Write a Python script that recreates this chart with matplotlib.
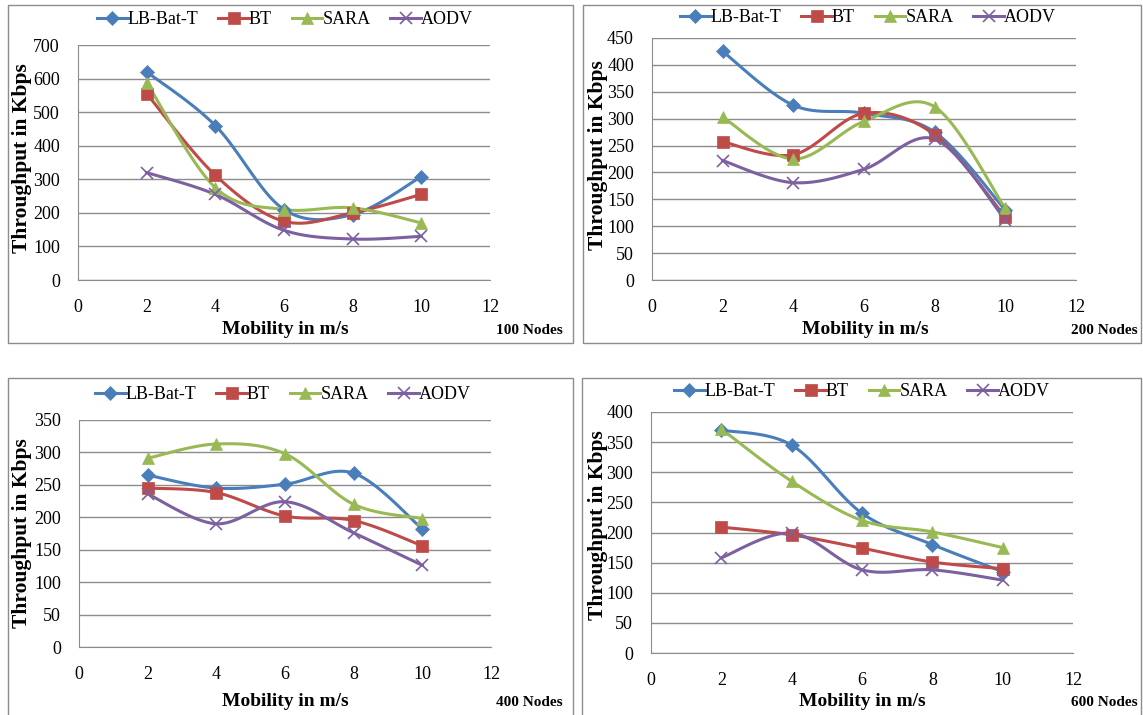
import numpy as np
import matplotlib
matplotlib.use("Agg")
import matplotlib.pyplot as plt
from matplotlib.patches import Rectangle

W, H = 1143, 715

mobility = [2, 4, 6, 8, 10]
series = ["LB-Bat-T", "BT", "SARA", "AODV"]

# 100 nodes
lb_100 = [620, 460, 210, 195, 308]
bt_100 = [555, 312, 175, 200, 255]
sara_100 = [588, 275, 210, 215, 170]
aodv_100 = [320, 255, 148, 122, 130]

# 200 nodes
lb_200 = [425, 325, 310, 275, 130]
bt_200 = [257, 233, 310, 270, 117]
sara_200 = [303, 225, 295, 322, 133]
aodv_200 = [222, 181, 206, 262, 112]

# 400 nodes
lb_400 = [265, 245, 251, 268, 182]
bt_400 = [245, 238, 202, 195, 156]
sara_400 = [291, 313, 298, 220, 198]
aodv_400 = [236, 190, 224, 176, 126]

# 600 nodes
lb_600 = [370, 345, 232, 180, 135]
bt_600 = [209, 196, 174, 151, 140]
sara_600 = [372, 285, 220, 201, 175]
aodv_600 = [158, 199, 138, 138, 121]

colors = ["#4A7EBB", "#BE4B48", "#98B954", "#7D60A0"]
markers = ["D", "s", "^", "x"]
msizes = [7, 9, 9, 9]

plt.rcParams["font.family"] = ["Liberation Serif", "DejaVu Serif"]


def smooth(x, y, n=30):
    # excel-style bezier smoothing through the points
    x = np.asarray(x, float)
    y = np.asarray(y, float)
    px = np.concatenate([[x[0]], x, [x[-1]]])
    py = np.concatenate([[y[0]], y, [y[-1]]])
    xs, ys = [], []
    t = np.linspace(0, 1, n)
    for i in range(1, len(x)):
        p0 = np.array([px[i], py[i]])
        p3 = np.array([px[i + 1], py[i + 1]])
        p1 = p0 + (np.array([px[i + 1], py[i + 1]]) - np.array([px[i - 1], py[i - 1]])) / 6
        p2 = p3 - (np.array([px[i + 2], py[i + 2]]) - np.array([px[i], py[i]])) / 6
        b = ((1 - t) ** 3)[:, None] * p0 + (3 * (1 - t) ** 2 * t)[:, None] * p1 \
            + (3 * (1 - t) * t ** 2)[:, None] * p2 + (t ** 3)[:, None] * p3
        xs.append(b[:, 0])
        ys.append(b[:, 1])
    return np.concatenate(xs), np.concatenate(ys)


def fr(x0, y0, x1, y1):
    # pixel box -> figure fraction
    return [x0 / W, 1 - y1 / H, (x1 - x0) / W, (y1 - y0) / H]


fig = plt.figure(figsize=(W / 100, H / 100), dpi=100)

panels = [
    dict(data=[lb_100, bt_100, sara_100, aodv_100], ymax=700, step=100, nodes="100 Nodes",
         box=(8, 5, 573, 343), ax=(78, 45, 490, 280), leg=(285, 20), xl=(285, 330), yl=(22, 158), nl=(563, 330)),
    dict(data=[lb_200, bt_200, sara_200, aodv_200], ymax=450, step=50, nodes="200 Nodes",
         box=(583, 5, 1141, 343), ax=(652, 38, 1076, 280), leg=(868, 18), xl=(865, 330), yl=(598, 155), nl=(1138, 330)),
    dict(data=[lb_400, bt_400, sara_400, aodv_400], ymax=350, step=50, nodes="400 Nodes",
         box=(8, 378, 573, 718), ax=(79, 420, 491, 647), leg=(283, 395), xl=(285, 702), yl=(22, 533), nl=(563, 702)),
    dict(data=[lb_600, bt_600, sara_600, aodv_600], ymax=400, step=50, nodes="600 Nodes",
         box=(582, 378, 1141, 718), ax=(651, 412, 1073, 653), leg=(862, 392), xl=(862, 702), yl=(598, 525), nl=(1138, 702)),
]

for p in panels:
    bx = p["box"]
    fig.add_artist(Rectangle((bx[0] / W, 1 - bx[3] / H), (bx[2] - bx[0]) / W, (bx[3] - bx[1]) / H,
                             transform=fig.transFigure, fill=False, edgecolor="#8C8C8C", lw=1.0))
    ax = fig.add_axes(fr(*p["ax"]))
    handles = []
    for vals, name, c, m, ms in zip(p["data"], series, colors, markers, msizes):
        sx, sy = smooth(mobility, vals)
        ax.plot(sx, sy, color=c, lw=2.2, zorder=3)
        ax.plot(mobility, vals, linestyle="none", marker=m, color=c, ms=ms,
                markeredgewidth=1.2 if m == "x" else 0.5, zorder=4)
        h, = ax.plot([], [], color=c, lw=2.2, marker=m, ms=ms,
                     markeredgewidth=1.2 if m == "x" else 0.5)
        handles.append(h)
    ax.set_xlim(0, 12)
    ax.set_ylim(0, p["ymax"])
    ax.set_xticks(range(0, 13, 2))
    ax.set_yticks(range(0, p["ymax"] + 1, p["step"]))
    ax.grid(axis="y", color="#8C8C8C", lw=1.0)
    ax.set_axisbelow(True)
    for s in ["top", "right"]:
        ax.spines[s].set_visible(False)
    for s in ["left", "bottom"]:
        ax.spines[s].set_color("#8C8C8C")
    ax.tick_params(length=0, labelsize=13)
    ax.tick_params(axis="y", pad=13)
    ax.tick_params(axis="x", pad=14)

    fig.legend(handles, series, loc="center", ncol=4, frameon=False, fontsize=13,
               bbox_to_anchor=(p["leg"][0] / W, 1 - p["leg"][1] / H), handlelength=1.7,
               columnspacing=1.1, handletextpad=0.0)
    fig.text(p["xl"][0] / W, 1 - p["xl"][1] / H, "Mobility in m/s", ha="center", va="center",
             fontsize=14, fontweight="bold")
    fig.text(p["yl"][0] / W, 1 - p["yl"][1] / H, "Throughput in Kbps", ha="center", va="center",
             rotation=90, fontsize=15.5, fontweight="bold")
    fig.text(p["nl"][0] / W, 1 - p["nl"][1] / H, p["nodes"], ha="right", va="center",
             fontsize=11, fontweight="bold")

fig.savefig("out.png", dpi=100)
